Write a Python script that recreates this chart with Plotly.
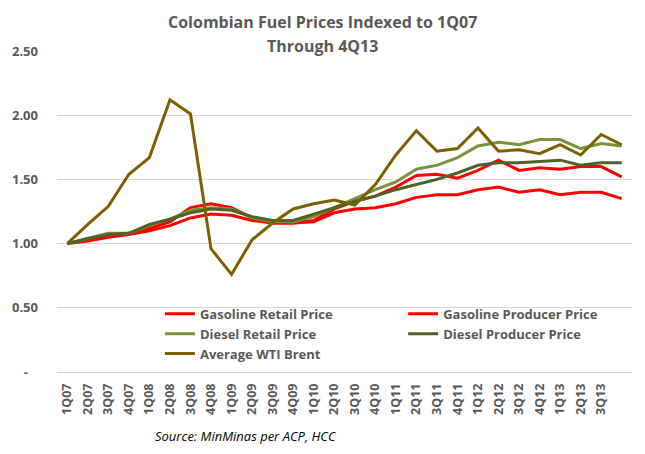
import plotly.graph_objects as go

quarters = ["1Q07", "2Q07", "3Q07", "4Q07", "1Q08", "2Q08", "3Q08", "4Q08",
            "1Q09", "2Q09", "3Q09", "4Q09", "1Q10", "2Q10", "3Q10", "4Q10",
            "1Q11", "2Q11", "3Q11", "4Q11", "1Q12", "2Q12", "3Q12", "4Q12",
            "1Q13", "2Q13", "3Q13", "4Q13"]
# last category label is not shown on the reference axis
tick_labels = quarters[:-1] + [""]

gasoline_retail = [1.00, 1.02, 1.05, 1.07, 1.10, 1.14, 1.20, 1.23, 1.22, 1.18,
                   1.16, 1.16, 1.17, 1.24, 1.27, 1.28, 1.31, 1.36, 1.38, 1.38,
                   1.42, 1.44, 1.40, 1.42, 1.38, 1.40, 1.40, 1.35]
gasoline_producer = [1.00, 1.03, 1.06, 1.08, 1.12, 1.17, 1.28, 1.31, 1.28, 1.20,
                     1.16, 1.16, 1.18, 1.27, 1.33, 1.37, 1.44, 1.53, 1.54, 1.51,
                     1.57, 1.65, 1.57, 1.59, 1.58, 1.60, 1.60, 1.52]
diesel_retail = [1.00, 1.04, 1.08, 1.08, 1.14, 1.19, 1.26, 1.28, 1.27, 1.20,
                 1.17, 1.17, 1.21, 1.28, 1.35, 1.42, 1.48, 1.58, 1.61, 1.67,
                 1.76, 1.79, 1.77, 1.81, 1.81, 1.74, 1.78, 1.76]
diesel_producer = [1.00, 1.04, 1.07, 1.08, 1.15, 1.19, 1.24, 1.27, 1.26, 1.21,
                   1.18, 1.18, 1.23, 1.28, 1.33, 1.37, 1.42, 1.46, 1.50, 1.55,
                   1.61, 1.63, 1.63, 1.64, 1.65, 1.61, 1.63, 1.63]
wti_brent = [1.00, 1.15, 1.29, 1.54, 1.67, 2.12, 2.01, 0.96, 0.76, 1.03,
             1.16, 1.27, 1.31, 1.34, 1.30, 1.46, 1.69, 1.88, 1.72, 1.74,
             1.90, 1.72, 1.73, 1.70, 1.77, 1.69, 1.85, 1.77]

y_ticks = [0, 0.5, 1.0, 1.5, 2.0, 2.5]
y_tick_labels = ["-\u00a0\u00a0\u00a0", "0.50", "1.00", "1.50", "2.00", "2.50"]

title_lines = ["Colombian Fuel Prices Indexed to 1Q07", "Through 4Q13"]
source_text = "Source: MinMinas per ACP, HCC"

FONT = "Open Sans"
GREY = "#595959"
xidx = list(range(len(quarters)))

series = [
    ("Gasoline Retail Price", gasoline_retail, "#FF0000", "legend"),
    ("Gasoline Producer Price", gasoline_producer, "#FF0000", "legend2"),
    ("Diesel Retail Price", diesel_retail, "#77933C", "legend"),
    ("Diesel Producer Price", diesel_producer, "#4F6228", "legend2"),
    ("Average WTI Brent", wti_brent, "#7F6000", "legend"),
]

fig = go.Figure()
for name, vals, color, leg in series:
    fig.add_trace(go.Scatter(
        x=xidx, y=vals, name=name, mode="lines",
        line=dict(color=color, width=3),
        legend=leg,
    ))

legend_font = dict(family=FONT, size=13, color=GREY, weight="bold")
title_font = dict(family=FONT, size=16, color=GREY, weight="bold")
fig.update_layout(
    width=645, height=454,
    margin=dict(l=52, r=13, t=51, b=82),
    paper_bgcolor="white", plot_bgcolor="white",
    showlegend=True,
    legend=dict(
        x=0.179, xanchor="left", y=0.228, yanchor="top",
        orientation="v", bgcolor="rgba(0,0,0,0)",
        font=legend_font, tracegroupgap=0, itemwidth=30,
    ),
    legend2=dict(
        x=0.602, xanchor="left", y=0.228, yanchor="top",
        orientation="v", bgcolor="rgba(0,0,0,0)",
        font=legend_font, tracegroupgap=0, itemwidth=30,
    ),
    xaxis=dict(
        range=[-0.5, len(quarters) - 0.5],
        tickmode="array", tickvals=xidx, ticktext=tick_labels,
        tickangle=-90, showgrid=False, zeroline=False,
        showline=False, ticks="",
        tickfont=dict(family=FONT, size=12.5, color=GREY, weight="bold"),
        ticklabelstandoff=8,
    ),
    yaxis=dict(
        range=[0, 2.5],
        tickmode="array", tickvals=y_ticks, ticktext=y_tick_labels,
        showgrid=True, gridcolor="#D9D9D9", gridwidth=1,
        zeroline=True, zerolinecolor="#D9D9D9", zerolinewidth=1,
        showline=False, ticks="",
        tickfont=dict(family=FONT, size=13, color=GREY, weight="bold"),
        ticklabelstandoff=18,
    ),
    annotations=[
        dict(
            text=title_lines[0],
            xref="paper", yref="paper", x=0.462, y=1.090,
            xanchor="center", yanchor="middle", showarrow=False,
            font=title_font,
        ),
        dict(
            text=title_lines[1],
            xref="paper", yref="paper", x=0.462, y=1.016,
            xanchor="center", yanchor="middle", showarrow=False,
            font=title_font,
        ),
        dict(
            text="<i>" + source_text + "</i>",
            xref="paper", yref="paper", x=0.329, y=-0.2, xanchor="center",
            yanchor="middle", showarrow=False,
            font=dict(family=FONT, size=13, color="black"),
        ),
    ],
)

fig.write_html("out.html")
